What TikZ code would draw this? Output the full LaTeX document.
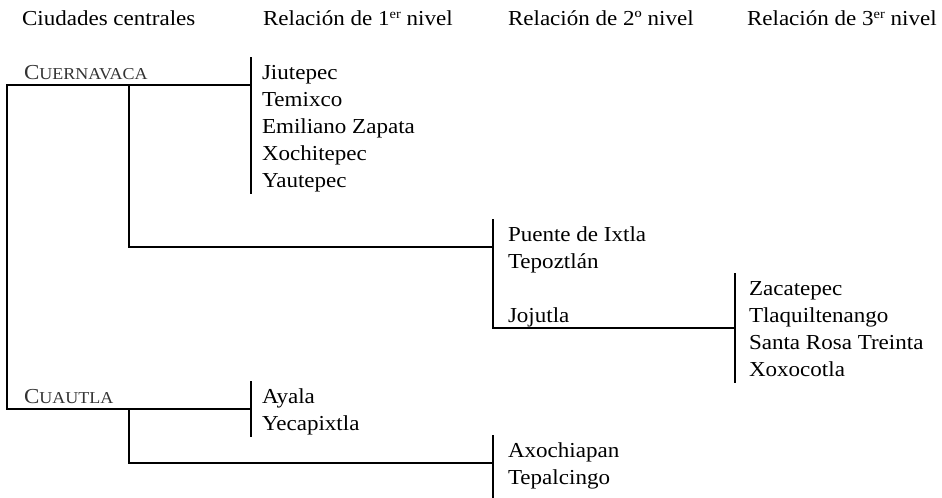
\documentclass[tikz,border=0pt]{standalone}
\usepackage{fontspec}
\setmainfont{Liberation Serif}[FakeStretch=1.08]
\newcommand\mysc[2]{#1{\fontsize{12.5}{12.5}\selectfont #2}}
\newcommand\mysup[1]{\raisebox{0.32em}{\fontsize{10}{10}\selectfont #1}}
\tikzset{
  lbl/.style={anchor=base west, inner sep=0pt, outer sep=0pt, font=\fontsize{16}{16}\selectfont},
  city/.style={lbl, text=black!80},
  wire/.style={line width=1.6pt, line cap=rect}
}
\begin{document}
\begin{tikzpicture}[x=0.75pt,y=-0.75pt]
\useasboundingbox (0,0) rectangle (942,497);
% headers
\node[lbl] (h0) at (22,25) {Ciudades centrales};
\node[lbl] (h1) at (263,25) {Relación de 1\mysup{er} nivel};
\node[lbl] (h2) at (508,25) {Relación de 2º nivel};
\node[lbl] (h3) at (747,25) {Relación de 3\mysup{er} nivel};
% central cities
\node[city] (cue) at (24,79) {\mysc{C}{UERNAVACA}};
\node[city] (cua) at (24,403) {\mysc{C}{UAUTLA}};
% level 1
\node[lbl] (jiu) at (262,79) {Jiutepec};
\node[lbl] (tem) at (262,106) {Temixco};
\node[lbl] (emi) at (262,133) {Emiliano Zapata};
\node[lbl] (xoc) at (262,160) {Xochitepec};
\node[lbl] (yau) at (262,187) {Yautepec};
\node[lbl] (aya) at (262,403) {Ayala};
\node[lbl] (yec) at (262,430) {Yecapixtla};
% level 2
\node[lbl] (pue) at (508,241) {Puente de Ixtla};
\node[lbl] (tep) at (508,268) {Tepoztlán};
\node[lbl] (joj) at (508,322) {Jojutla};
\node[lbl] (axo) at (508,457) {Axochiapan};
\node[lbl] (tpc) at (508,484) {Tepalcingo};
% level 3
\node[lbl] (zac) at (749,295) {Zacatepec};
\node[lbl] (tla) at (749,322) {Tlaquiltenango};
\node[lbl] (srt) at (749,349) {Santa Rosa Treinta};
\node[lbl] (xxc) at (749,376) {Xoxocotla};
% junction coordinates
\coordinate (cueL) at (7,85);
\coordinate (cueR) at (251,85);
\coordinate (cueM) at (129,85);
\coordinate (b1top) at (251,58);
\coordinate (b1bot) at (251,193);
\coordinate (cuaL) at (7,409);
\coordinate (cuaR) at (251,409);
\coordinate (cuaM) at (129,409);
\coordinate (b4top) at (251,382);
\coordinate (b4bot) at (251,436);
\coordinate (pueJ) at (493,247);
\coordinate (b2top) at (493,220);
\coordinate (b2bot) at (493,328);
\coordinate (zacJ) at (735,328);
\coordinate (b3top) at (735,274);
\coordinate (b3bot) at (735,382);
\coordinate (axoJ) at (493,463);
\coordinate (b5top) at (493,436);
\coordinate (b5bot) at (493,497);
% connectors
\draw[wire] (cueR) -- (cueL) -- (cuaL) -- (cuaR);
\draw[wire] (b1top) -- (b1bot);
\draw[wire] (b4top) -- (b4bot);
\draw[wire] (cueM) |- (pueJ);
\draw[wire] (b2top) -- (b2bot) -- (zacJ);
\draw[wire] (b3top) -- (b3bot);
\draw[wire] (cuaM) |- (axoJ);
\draw[wire] (b5top) -- (b5bot);
\end{tikzpicture}
\end{document}
